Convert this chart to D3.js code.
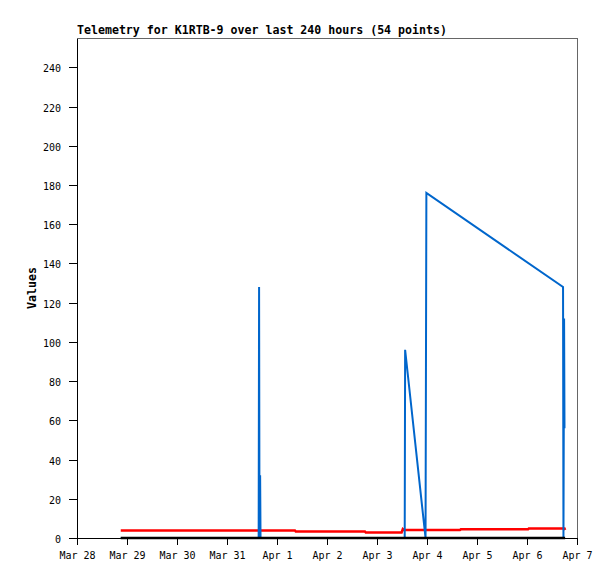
<!DOCTYPE html>
<html>
<head>
<meta charset="utf-8">
<script src="https://cdn.jsdelivr.net/npm/d3@7"></script>
<style>
  html, body { margin: 0; padding: 0; background: #fff; }
  svg { display: block; }
</style>
</head>
<body>
<div id="chart"></div>
<script>
// ---- data (hours since Mar 28 00:00) ----
const titleText = "Telemetry for K1RTB-9 over last 240 hours (54 points)";
const yLabel = "Values";
const tickDays = ["Mar 28","Mar 29","Mar 30","Mar 31","Apr 1","Apr 2","Apr 3","Apr 4","Apr 5","Apr 6","Apr 7"];
const yTickValues = [0,20,40,60,80,100,120,140,160,180,200,220,240];

const blueHours  = [21.0, 87.2, 87.4, 87.6, 87.9, 88.1, 157.3, 157.5, 167.3, 167.7, 233.3, 233.5, 233.8, 234.0];
const blueValues = [0,    0,    128,  0,    32,   0,    0,     96,    0,     176,   128,   0,     112,   56];

const redHours  = [21.0, 104.6, 105.0, 138.2, 138.6, 155.8, 156.4, 157.0, 183.8, 184.2, 216.5, 216.9, 234.0, 234.3];
const redValues = [3.8,  3.8,   3.3,   3.3,   2.8,   2.8,   4.6,   4.1,   4.1,   4.4,   4.4,   4.9,   4.9,   4.1];

const blackHours  = [21.0, 234.3];
const blackValues = [0, 0];

// ---- layout ----
const W = 615, H = 579;
const mLeft = 77, mRight = 577, mTop = 38, mBottom = 538;
const t0 = Date.UTC(2021, 2, 28);
const toDate = h => new Date(t0 + h * 3600 * 1000);

const svg = d3.select("#chart").append("svg")
  .attr("width", W).attr("height", H)
  .style("font-family", "'DejaVu Sans Mono', monospace");

const x = d3.scaleUtc().domain([toDate(0), toDate(240)]).range([mLeft, mRight]);
const y = d3.scaleLinear().domain([0, 255]).range([mBottom, mTop]);

// frame (top & right)
svg.append("path")
  .attr("d", `M${mLeft},${mTop + 0.5}H${mRight + 0.5}V${mBottom}`)
  .attr("fill", "none").attr("stroke", "#666").attr("stroke-width", 1)
  .attr("shape-rendering", "crispEdges");

// title
svg.append("text")
  .attr("x", mLeft).attr("y", 34)
  .attr("font-size", "11.6px").attr("font-weight", "bold")
  .attr("fill", "#000")
  .text(titleText);

// y label
svg.append("text")
  .attr("transform", `translate(36,${(mTop + mBottom) / 2}) rotate(-90)`)
  .attr("text-anchor", "middle")
  .attr("font-size", "11.6px").attr("font-weight", "bold")
  .text(yLabel);

// series lines
const series = [
  { hours: redHours, values: redValues, color: "#ff0000", width: 2.5 },
  { hours: blueHours, values: blueValues, color: "#0066cc", width: 2 },
  { hours: blackHours, values: blackValues, color: "#000000", width: 2.5 }
];
const line = d3.line().x(d => x(d[0])).y(d => y(d[1]));
series.forEach(s => {
  const pts = s.hours.map((h, i) => [toDate(h), s.values[i]]);
  svg.append("path")
    .datum(pts)
    .attr("d", line)
    .attr("fill", "none")
    .attr("stroke", s.color)
    .attr("stroke-width", s.width)
    .attr("stroke-linejoin", "miter");
});

// x axis
const xTicks = tickDays.map((_, i) => toDate(i * 24));
const xAxis = d3.axisBottom(x)
  .tickValues(xTicks)
  .tickFormat((d, i) => tickDays[i])
  .tickSize(7).tickSizeOuter(0).tickPadding(7);
const gx = svg.append("g")
  .attr("transform", `translate(0,${mBottom})`)
  .attr("shape-rendering", "crispEdges")
  .call(xAxis);
gx.selectAll("text").attr("font-size", "10px").attr("font-family", "'DejaVu Sans Mono', monospace").attr("fill", "#000");
gx.selectAll("line,path").attr("stroke", "#000");

// y axis
const yAxis = d3.axisLeft(y)
  .tickValues(yTickValues)
  .tickSize(8).tickSizeOuter(0).tickPadding(8);
const gy = svg.append("g")
  .attr("transform", `translate(${mLeft},0)`)
  .attr("shape-rendering", "crispEdges")
  .call(yAxis);
gy.selectAll("text").attr("font-size", "10px").attr("font-family", "'DejaVu Sans Mono', monospace").attr("fill", "#000")
  .attr("dy", "0.45em");
gy.selectAll("line,path").attr("stroke", "#000");
</script>
</body>
</html>
